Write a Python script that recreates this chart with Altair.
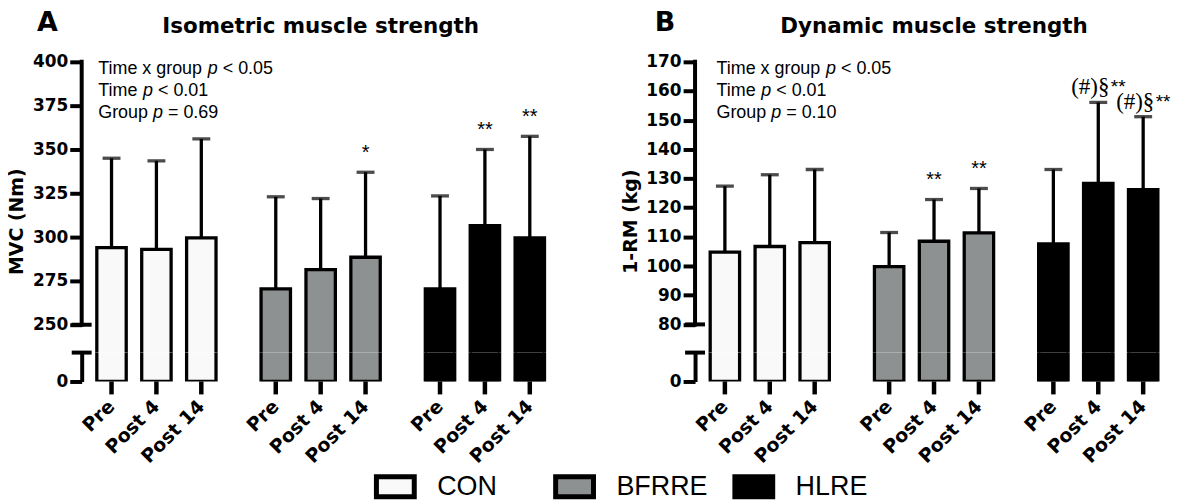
import altair as alt
import pandas as pd

groups = ["CON", "BFRRE", "HLRE"]
times = ["Pre", "Post 4", "Post 14"]
fills = ["#f9f9f9", "#8e9191", "#000000"]

# Panel A: isometric strength (MVC, Nm)
mvc_mean = [294, 293, 299.5, 270.5, 281.5, 288.5, 270.5, 306.5, 299.5]
mvc_upper = [345, 343.5, 356, 323, 322, 337, 323.5, 350, 357.5]
mvc_sig = ["", "", "", "", "", "*", "", "**", "**"]
mvc_sup = ["", "", "", "", "", "", "", "", ""]
mvc_ticks = [250, 275, 300, 325, 350, 375, 400]
mvc_stats = [["Time x group ", "p", " < 0.05"], ["Time ", "p", " < 0.01"], ["Group ", "p", " = 0.69"]]

# Panel B: dynamic strength (1-RM, kg)
rm_mean = [104.8, 106.7, 108, 99.8, 108.5, 111.4, 107.6, 128.3, 126.2]
rm_upper = [127.4, 131.3, 133.1, 111.5, 122.8, 126.6, 133.1, 156.1, 151.2]
rm_sig = ["", "", "", "", "**", "**", "", "(#)§", "(#)§"]
rm_sup = ["", "", "", "", "", "", "", "**", "**"]
rm_ticks = [80, 90, 100, 110, 120, 130, 140, 150, 160, 170]
rm_stats = [["Time x group ", "p", " < 0.05"], ["Time ", "p", " < 0.01"], ["Group ", "p", " = 0.10"]]

W = 480
H_UP = 292
H_LO = 29
BOLD = "DejaVu Sans"
SANS = "Liberation Sans"

AW = {'T': 611, 'i': 222, 'm': 833, 'e': 556, ' ': 278, 'x': 500, 'g': 556, 'r': 333, 'o': 556,
      'u': 556, 'p': 556, '<': 584, '0': 556, '.': 278, '1': 556, '5': 556, '6': 556, '9': 556,
      'G': 778, '=': 584}


def tw(s, size):
    return sum(AW.get(c, 556) for c in s) * size / 1000.0


def make_df(means, uppers, sig, sup):
    rows = []
    for gi, g in enumerate(groups):
        for ti, t in enumerate(times):
            k = gi * 3 + ti
            rows.append({"group": g, "time": t, "mean": means[k], "upper": uppers[k],
                         "sig": sig[k], "sup": sup[k]})
    return pd.DataFrame(rows)


one = pd.DataFrame({"a": [0]})

XS = alt.Scale(paddingInner=0.18, paddingOuter=0.045)
XOS = alt.Scale(paddingInner=0.345, paddingOuter=0.1725)

legend = alt.Legend(title=None, orient="none", legendX=293.5, legendY=405, direction="horizontal",
                    symbolType="M-1,-0.53H1V0.53H-1Z", symbolSize=1444, symbolStrokeWidth=5,
                    symbolStrokeColor="black", symbolOpacity=1,
                    labelFont=SANS, labelFontSize=27, labelColor="black", labelOffset=20.5,
                    gridAlign="all", columnPadding=16)
color_enc = alt.Color("group:N", sort=groups, scale=alt.Scale(domain=groups, range=fills), legend=legend)


def base_of(df, xaxis=None):
    return alt.Chart(df).encode(
        x=alt.X("group:N", sort=groups, scale=XS, axis=xaxis),
        xOffset=alt.XOffset("time:N", sort=times, scale=XOS))


def label_axis(values, title=None, domain=False):
    kw = dict(values=[float(v) for v in values], tickCount=len(values), domain=domain,
              tickSize=12, tickWidth=4, tickColor="black",
              labelFont=BOLD, labelFontWeight="bold", labelFontSize=17, labelColor="black",
              labelPadding=2, labelOverlap=False, grid=False)
    if domain:
        kw.update(domainWidth=4, domainColor="black")
    if title is not None:
        kw.update(title=title, titleFont=BOLD, titleFontWeight="bold", titleFontSize=19,
                  titleColor="black", titleX=-55, titleY=160, titleAngle=270,
                  titleBaseline="bottom", titleAlign="center")
    else:
        kw.update(title=None)
    return alt.Axis(**kw)


def text_layer(s, x, y, size=18, font=SANS, italic=False, weight="normal", align="left"):
    kw = dict(text=s, font=font, fontSize=size, fontWeight=weight, align=align,
              baseline="alphabetic", color="black")
    if italic:
        kw["fontStyle"] = "italic"
    return alt.Chart(one).mark_text(**kw).encode(x=alt.value(x), y=alt.value(y))


def upper(df, dom, ticks, ytitle, letter, letter_x, title, stats, stats_x):
    base = base_of(df)
    bars = base.mark_bar(clip=True, stroke="black", strokeWidth=3.3).encode(
        y=alt.Y("mean:Q", scale=alt.Scale(domain=dom, nice=False, zero=False),
                axis=label_axis(ticks, title=ytitle)),
        color=color_enc)
    whisk = base.mark_rule(color="black", strokeWidth=3.3).encode(y="mean:Q", y2="upper:Q")
    cap = base.mark_tick(orient="horizontal", color="black", size=18, thickness=3.3).encode(y="upper:Q")
    seg = alt.Chart(one).mark_rule(color="black", strokeWidth=4, strokeCap="square").encode(
        x=alt.value(0), y=alt.datum(ticks[0]), y2=alt.datum(ticks[-1]))
    brk = alt.Chart(one).mark_rule(color="black", strokeWidth=4).encode(
        x=alt.value(-10), x2=alt.value(10), y=alt.datum(ticks[0]))
    sig1 = base.transform_filter("datum.sup == ''").mark_text(
        font=SANS, fontSize=20, dy=-13.5, baseline="alphabetic", color="black").encode(
        y="upper:Q", text="sig:N")
    sig2 = base.transform_filter("datum.sup != ''").mark_text(
        font="Liberation Serif", fontSize=23, dx=-8, dy=-8, baseline="alphabetic", color="black").encode(
        y="upper:Q", text="sig:N")
    sig3 = base.transform_filter("datum.sup != ''").mark_text(
        font=SANS, fontSize=19, dx=20, dy=-9, baseline="alphabetic", color="black").encode(
        y="upper:Q", text="sup:N")
    layers = [bars, whisk, cap, seg, brk, sig1, sig2, sig3]
    layers.append(text_layer(letter, letter_x, -31, size=27, font=BOLD, weight="bold"))
    layers.append(text_layer(title, W / 2, -29.3, size=21.5, font=BOLD, weight="bold", align="center"))
    for i, (a, p, b) in enumerate(stats):
        y = 12.3 + 22 * i
        layers.append(text_layer(a.strip(), stats_x, y))
        xp = stats_x + tw(a, 18)
        layers.append(text_layer(p, xp, y, italic=True))
        xb = xp + tw(p + " ", 18)
        layers.append(text_layer(b.strip(), xb, y))
    return alt.layer(*layers).properties(width=W, height=H_UP)


def lower(df):
    xaxis = alt.Axis(labels=False, ticks=False, domain=True, domainWidth=4, domainColor="black",
                     title=None, grid=False)
    base = base_of(df, xaxis)
    bars = base.mark_bar(clip=True, stroke="black", strokeWidth=3.3).encode(
        y=alt.Y("mean:Q", scale=alt.Scale(domain=[0, 10], nice=False),
                axis=label_axis([0], domain=True)),
        color=color_enc)
    base2 = base_of(df)
    brk = alt.Chart(one).mark_rule(color="black", strokeWidth=4).encode(
        x=alt.value(-10), x2=alt.value(10), y=alt.datum(10))
    xt = base2.mark_rule(color="black", strokeWidth=4.5).encode(
        y=alt.value(H_LO), y2=alt.value(H_LO + 13))
    xl = base2.mark_text(angle=315, align="right", baseline="middle", font=BOLD, fontWeight="bold",
                         fontSize=19, color="black").encode(y=alt.value(H_LO + 22), text="time:N")
    return alt.layer(bars, brk, xt, xl).properties(width=W, height=H_LO)


dfA = make_df(mvc_mean, mvc_upper, mvc_sig, mvc_sup)
dfB = make_df(rm_mean, rm_upper, rm_sig, rm_sup)

panelA = alt.vconcat(
    upper(dfA, [234.1, 400], mvc_ticks, "MVC (Nm)", "A", -45, "Isometric muscle strength", mvc_stats, 16.6),
    lower(dfA), spacing=0, bounds="flush").resolve_scale(y="independent")
panelB = alt.vconcat(
    upper(dfB, [70.34, 170], rm_ticks, "1-RM (kg)", "B", -40.5, "Dynamic muscle strength", rm_stats, 21.5),
    lower(dfB), spacing=0, bounds="flush").resolve_scale(y="independent")

chart = alt.hconcat(panelA, panelB, spacing=62).resolve_scale(y="independent").properties(
    padding=0).configure_view(stroke=None).configure_axis(grid=False)

chart.save("out.html", embed_options={"renderer": "svg", "actions": False})
